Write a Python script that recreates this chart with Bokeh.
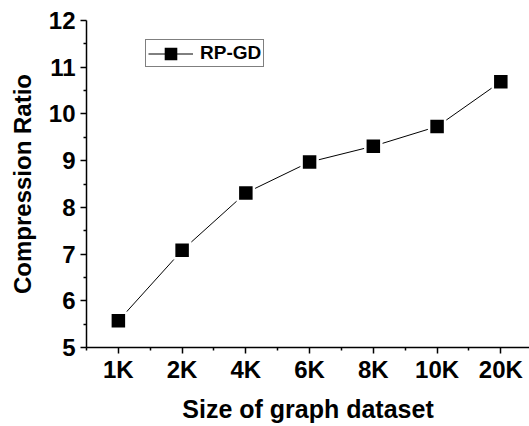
from bokeh.plotting import figure
from bokeh.models import (Range1d, FixedTicker, Legend, LegendItem, ColumnDataSource)
from bokeh.embed import file_html
from bokeh.resources import INLINE

# Dataset sizes and the compression ratio reached on each
sizes = ["1K", "2K", "4K", "6K", "8K", "10K", "20K"]
ratio = [5.57, 7.08, 8.31, 8.97, 9.31, 9.73, 10.69]
positions = list(range(1, len(sizes) + 1))

y_ticks = [5, 6, 7, 8, 9, 10, 11, 12]

FONT = "Liberation Sans"

src = ColumnDataSource(dict(x=positions, y=ratio))

p = figure(width=529, height=426, output_backend="svg", toolbar_location=None,
           x_range=Range1d(0.5, 7.45), y_range=Range1d(5, 12),
           min_border_left=86, min_border_top=20, min_border_right=0,
           min_border_bottom=79)
p.outline_line_color = None
p.grid.visible = False
p.background_fill_color = "white"
p.border_fill_color = "white"

line = p.line("x", "y", source=src, line_color="black", line_width=1)
# solid square used for the legend sample; sits inside the plotted squares
key = p.scatter("x", "y", source=src, marker="square", size=7,
                fill_color="black", line_color="black", line_width=5,
                line_join="miter")
pts = p.scatter("x", "y", source=src, marker="square", size=16,
                fill_color="black", line_color="white", line_width=2.5,
                line_join="miter")

# x axis: one major tick per dataset, minor ticks between them
p.xaxis.ticker = FixedTicker(ticks=positions,
                             minor_ticks=[i + 0.5 for i in range(0, len(sizes) + 1)])
p.xaxis.major_label_overrides = {i: s for i, s in zip(positions, sizes)}
p.yaxis.ticker = FixedTicker(ticks=y_ticks,
                             minor_ticks=[v + 0.5 for v in y_ticks[:-1]])

for ax in (p.xaxis[0], p.yaxis[0]):
    ax.axis_line_color = "black"
    ax.axis_line_width = 1.5
    ax.major_tick_line_color = "black"
    ax.minor_tick_line_color = "black"
    ax.major_tick_line_width = 1.5
    ax.minor_tick_line_width = 1.5
    ax.major_tick_in = 0
    ax.major_tick_out = 6
    ax.minor_tick_in = 0
    ax.minor_tick_out = 3
    ax.major_label_text_font = FONT
    ax.major_label_text_font_style = "bold"
    ax.major_label_text_font_size = "24px"
    ax.major_label_text_color = "black"
    ax.axis_label_text_font = FONT
    ax.axis_label_text_font_style = "bold"
    ax.axis_label_text_color = "black"

p.xaxis.axis_label_text_font_size = "25px"
p.yaxis.axis_label_text_font_size = "24px"
p.xaxis.axis_label = "Size of graph dataset"
p.yaxis.axis_label = "Compression Ratio"
p.xaxis.major_label_standoff = 2
p.yaxis.major_label_standoff = 5
p.xaxis.axis_label_standoff = 9
p.yaxis.axis_label_standoff = 10

legend = Legend(items=[LegendItem(label="RP-GD", renderers=[line, key])],
                location=(59, 280), padding=2, margin=0, spacing=0,
                glyph_width=45, glyph_height=19, label_height=19,
                label_standoff=7,
                label_text_font=FONT, label_text_font_style="bold",
                label_text_font_size="19px", label_text_color="black",
                border_line_color="black", border_line_width=1,
                background_fill_alpha=1)
p.add_layout(legend)

open("out.html", "w").write(file_html(p, INLINE))
